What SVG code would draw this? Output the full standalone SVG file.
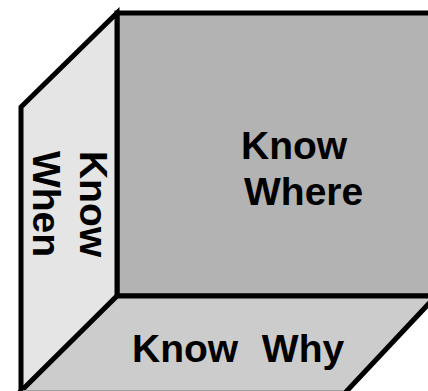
<svg xmlns="http://www.w3.org/2000/svg" width="428" height="391" viewBox="0 0 428 391">
  <style>
    .face { stroke: #000; stroke-width: 5; stroke-linejoin: miter; }
    .lbl { font-family: "Liberation Sans", Arial, sans-serif; font-weight: bold; font-size: 39px; fill: #000; }
  </style>
  <rect width="428" height="391" fill="#fff"/>
  <g id="back-wall">
    <rect class="face" x="117" y="13" width="330" height="283" fill="#b3b3b3"/>
    <text class="lbl" x="241" y="159">Know</text>
    <text class="lbl" x="244" y="205">Where</text>
  </g>
  <g id="left-wall">
    <polygon class="face" points="21,107 117,13 117,296 21,392 21,400" fill="#e5e5e5"/>
    <g transform="translate(80,204) rotate(90)">
      <text class="lbl" x="0" y="0" text-anchor="middle">Know</text>
    </g>
    <g transform="translate(33,204) rotate(90)">
      <text class="lbl" x="0" y="0" text-anchor="middle">When</text>
    </g>
  </g>
  <g id="floor">
    <polygon class="face" points="117,296 436,296 343,395 17,395" fill="#cccccc"/>
    <text class="lbl" x="132" y="362" xml:space="preserve">Know  <tspan dx="2">Why</tspan></text>
  </g>
  <g id="connectors"></g>
  <line x1="23" y1="390.5" x2="343" y2="390.5" stroke="#a0a0a0" stroke-width="1"/>
</svg>
